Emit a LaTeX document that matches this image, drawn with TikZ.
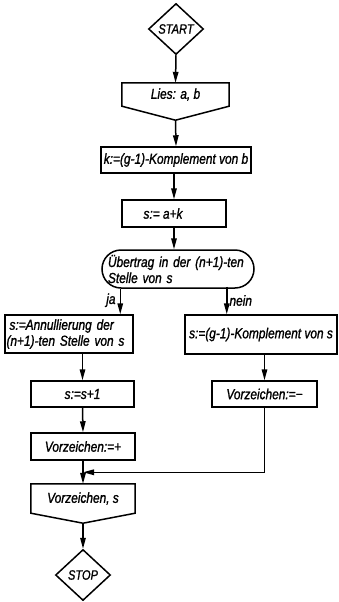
\documentclass[tikz,border=0pt]{standalone}
\usepackage{fontspec}
\setmainfont{Liberation Sans}[FakeStretch=0.82,FakeBold=1.2]
\usetikzlibrary{shapes.geometric,arrows.meta,calc}
\begin{document}
\begin{tikzpicture}[x=1pt,y=-1pt,
  every node/.style={font=\fontsize{14.5}{16}\selectfont\itshape, inner sep=0pt},
  box/.style={draw, line width=1.5pt, rectangle},
  term/.style={draw, line width=1.5pt, diamond, minimum width=55pt, minimum height=51pt, font=\fontsize{13.5}{15}\selectfont\itshape},
  arr/.style={line width=1.5pt, -{Triangle[length=11pt,width=5.5pt]}},
  ln/.style={line width=1.5pt}]
\useasboundingbox (0,0) rectangle (338,602);
\fill[white] (0,0) rectangle (338,602);

\node[term] (start) at (176,29) {START};

\node[minimum width=107pt, minimum height=23pt] (lies) at (175.5,94.5) {Lies: a, b};
\draw[ln] (lies.north west) -- (lies.north east) -- (lies.south east) -- ($(lies.south)+(0,14)$) -- (lies.south west) -- cycle;

\node[box, minimum width=150pt, minimum height=26pt] (k) at (176,160) {k:=(g-1)-Komplement von b};
\node[box, minimum width=104pt, minimum height=27pt] (sak) at (174,213.5) {\hspace*{-22pt}s:= a+k};
\node[box, minimum width=152pt, minimum height=38pt, rounded corners=19pt, text width=140pt, align=left] (dec) at (178,269) {\mbox{Übertrag in der (n+1)-ten}\\Stelle von s};

\node[box, minimum width=128pt, minimum height=38pt, text width=125pt, align=left] (ann) at (69,334) {\hspace*{3pt}s:=Annullierung der\\(n+1)-ten Stelle von s};
\node[box, minimum width=103pt, minimum height=26pt] (s1) at (82.5,394) {s:=s+1};
\node[box, minimum width=104pt, minimum height=27pt] (vp) at (83,446.5) {Vorzeichen:=+};
\node[minimum width=104pt, minimum height=29pt] (out) at (83,498.5) {Vorzeichen, s};
\draw[ln] (out.north west) -- (out.north east) -- (out.south east) -- ($(out.south)+(0,10)$) -- (out.south west) -- cycle;
\node[term] (stop) at (83,575) {STOP};

\node[box, minimum width=152pt, minimum height=39pt] (komp) at (261,334.5) {s:=(g-1)-Komplement von s};
\node[box, minimum width=105pt, minimum height=26pt] (vm) at (264.5,394) {Vorzeichen:=−};

\draw[arr] (start.south) -- (lies.north);
\draw[arr] ($(lies.south)+(0,14)$) -- (k.north);
\draw[arr] (k.south -| sak.north) -- (sak.north);
\draw[arr] (sak.south) -- (sak.south |- dec.north);

\coordinate (jaS) at ($(dec.south west)+(19,0)$);
\coordinate (neinS) at ($(dec.south east)+(-28,-2)$);
\draw[arr] (jaS) -- (jaS |- ann.north) node[pos=0.45, left=4pt] (ja) {ja};
\draw[arr] (neinS) -- (neinS |- komp.north) node[pos=0.5, right=2pt] (nein) {nein};

\draw[arr] (s1.north |- ann.south) -- (s1.north);
\draw[arr] (s1.south) -- (vp.north);
\draw[arr] (vp.south) -- (out.north);
\draw[arr] ($(out.south)+(0,10)$) -- (stop.north);

\draw[arr] (vm.north |- komp.south) -- (vm.north);
\coordinate (join) at ($(vp.south)!0.5!(out.north)$);
\draw[arr] (vm.south) -- (vm.south |- join) -- (join);
\end{tikzpicture}
\end{document}
